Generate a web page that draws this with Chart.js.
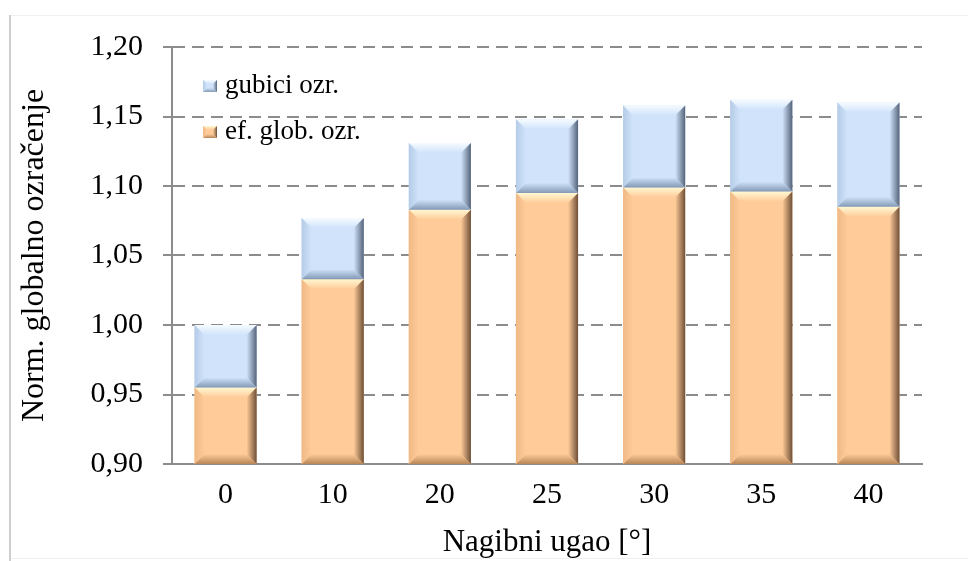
<!DOCTYPE html>
<html>
<head>
<meta charset="utf-8">
<script src="https://cdn.jsdelivr.net/npm/chart.js@4.4.1/dist/chart.umd.min.js"></script>
<style>
  html, body { margin: 0; padding: 0; background: #fff; }
  #wrap { position: relative; width: 968px; height: 561px; }
</style>
</head>
<body>
<div id="wrap"><canvas id="chart"></canvas></div>
<script>
// nagibni ugao (tilt angle) categories
const angles = ['0', '10', '20', '25', '30', '35', '40'];
// effective global irradiation (bottom part of stack)
const efGlob = [0.955, 1.033, 1.083, 1.095, 1.099, 1.096, 1.085];
// losses (top part of stack)
const gubici = [0.045, 0.044, 0.048, 0.053, 0.059, 0.066, 0.075];
const yTicks = [0.90, 0.95, 1.00, 1.05, 1.10, 1.15, 1.20];

const FONT = "'Liberation Serif', 'DejaVu Serif', serif";
const gridColor = '#8c8c8c';

// bevel colours per dataset
const bevel = {
    ef: { face: '#fecb99', top: '#fff8d2', left: '#f0b985', right: '#6f4f37', bottom: '#b98658' },
    gub: { face: '#d0e3fb', top: '#f6fbff', left: '#b5cbe6', right: '#55647a', bottom: '#8399b5' }
};

function quad(ctx, pts, fill) {
    ctx.beginPath();
    ctx.moveTo(pts[0][0], pts[0][1]);
    for (let i = 1; i < pts.length; i++) ctx.lineTo(pts[i][0], pts[i][1]);
    ctx.closePath();
    ctx.fillStyle = fill;
    ctx.fill();
}

function drawBevel(ctx, l, t, r, b, col, size) {
    const s = Math.min(size, (b - t) / 2, (r - l) / 2);
    let g;
    g = ctx.createLinearGradient(0, t, 0, t + s);
    g.addColorStop(0, col.top); g.addColorStop(1, col.face);
    quad(ctx, [[l, t], [r, t], [r - s, t + s], [l + s, t + s]], g);
    g = ctx.createLinearGradient(0, b, 0, b - s);
    g.addColorStop(0, col.bottom); g.addColorStop(1, col.face);
    quad(ctx, [[l, b], [r, b], [r - s, b - s], [l + s, b - s]], g);
    g = ctx.createLinearGradient(l, 0, l + s, 0);
    g.addColorStop(0, col.left); g.addColorStop(1, col.face);
    quad(ctx, [[l, t], [l + s, t + s], [l + s, b - s], [l, b]], g);
    g = ctx.createLinearGradient(r, 0, r - s, 0);
    g.addColorStop(0, col.right); g.addColorStop(1, col.face);
    quad(ctx, [[r, t], [r - s, t + s], [r - s, b - s], [r, b]], g);
}

const bevelPlugin = {
    id: 'bevel',
    afterDatasetsDraw(chart) {
        const ctx = chart.ctx;
        const area = chart.chartArea;
        ctx.save();
        chart.data.datasets.forEach((ds, i) => {
            const meta = chart.getDatasetMeta(i);
            meta.data.forEach(el => {
                const l = el.x - el.width / 2;
                const r = el.x + el.width / 2;
                const t = Math.max(Math.min(el.y, el.base), area.top);
                const b = Math.min(Math.max(el.y, el.base), area.bottom);
                drawBevel(ctx, l, t, r, b, ds.bevel, 10);
            });
        });
        ctx.restore();
    }
};

const framePlugin = {
    id: 'frame',
    beforeDraw(chart) {
        const ctx = chart.ctx;
        ctx.save();
        ctx.fillStyle = '#fff';
        ctx.fillRect(0, 0, chart.width, chart.height);
        ctx.strokeStyle = '#f0f0f0';
        ctx.lineWidth = 1;
        ctx.beginPath();
        ctx.moveTo(10, 15.5); ctx.lineTo(chart.width, 15.5);
        ctx.moveTo(10, 558.5); ctx.lineTo(chart.width, 558.5);
        ctx.stroke();
        ctx.strokeStyle = '#cfcfcf';
        ctx.lineWidth = 2;
        ctx.beginPath();
        ctx.moveTo(10, 15); ctx.lineTo(10, chart.height);
        ctx.stroke();
        ctx.restore();
    }
};

// legend drawn inside the plot area, top-left, series in reverse order
const innerLegend = {
    id: 'innerLegend',
    afterDraw(chart) {
        const ctx = chart.ctx;
        const area = chart.chartArea;
        ctx.save();
        ctx.font = "27px " + FONT;
        ctx.textBaseline = 'middle';
        const items = chart.data.datasets.slice().reverse();
        items.forEach((ds, i) => {
            const cy = area.top + 39 + i * 46;
            const x = area.left + 31;
            ctx.fillStyle = ds.bevel.face;
            ctx.fillRect(x, cy - 6, 14, 12);
            drawBevel(ctx, x, cy - 6, x + 14, cy + 6, ds.bevel, 4);
            ctx.fillStyle = '#000';
            ctx.fillText(ds.label, x + 22, cy);
        });
        ctx.restore();
    }
};

new Chart(document.getElementById('chart'), {
    type: 'bar',
    data: {
        labels: angles,
        datasets: [
            {
                label: 'ef. glob. ozr.',
                data: efGlob,
                backgroundColor: bevel.ef.face,
                bevel: bevel.ef,
                borderWidth: 0,
                categoryPercentage: 1,
                barPercentage: 0.58
            },
            {
                label: 'gubici ozr.',
                data: gubici,
                backgroundColor: bevel.gub.face,
                bevel: bevel.gub,
                borderWidth: 0,
                categoryPercentage: 1,
                barPercentage: 0.58
            }
        ]
    },
    options: {
        responsive: true,
        maintainAspectRatio: false,
        animation: false,
        layout: {
            padding: { left: 12, top: 47, right: 46, bottom: 0 }
        },
        scales: {
            x: {
                stacked: true,
                grid: { display: false, drawTicks: false },
                border: { display: true, color: gridColor, width: 2 },
                ticks: {
                    color: '#000',
                    padding: 13,
                    font: { family: FONT, size: 30 }
                },
                title: {
                    display: true,
                    text: 'Nagibni ugao [°]',
                    color: '#000',
                    padding: { top: 0, bottom: 0 },
                    font: { family: FONT, size: 31 }
                },
                afterFit: scale => { scale.height = 97; }
            },
            y: {
                stacked: true,
                min: 0.90,
                max: 1.20,
                afterBuildTicks: scale => {
                    scale.ticks = yTicks.map(v => ({ value: v }));
                },
                grid: {
                    color: gridColor,
                    lineWidth: 2,
                    tickLength: 9,
                    tickColor: gridColor,
                    tickBorderDash: []
                },
                border: { display: true, color: gridColor, width: 2, dash: [12, 7] },
                ticks: {
                    color: '#000',
                    padding: 20,
                    font: { family: FONT, size: 30 },
                    callback: v => v.toFixed(2).replace('.', ',')
                },
                title: {
                    display: true,
                    text: 'Norm. globalno ozračenje',
                    color: '#000',
                    padding: { top: 3, bottom: 0 },
                    font: { family: FONT, size: 32 }
                },
                afterFit: scale => { scale.width = 160; }
            }
        },
        plugins: {
            legend: { display: false },
            tooltip: { enabled: false }
        }
    },
    plugins: [framePlugin, bevelPlugin, innerLegend]
});
</script>
</body>
</html>
